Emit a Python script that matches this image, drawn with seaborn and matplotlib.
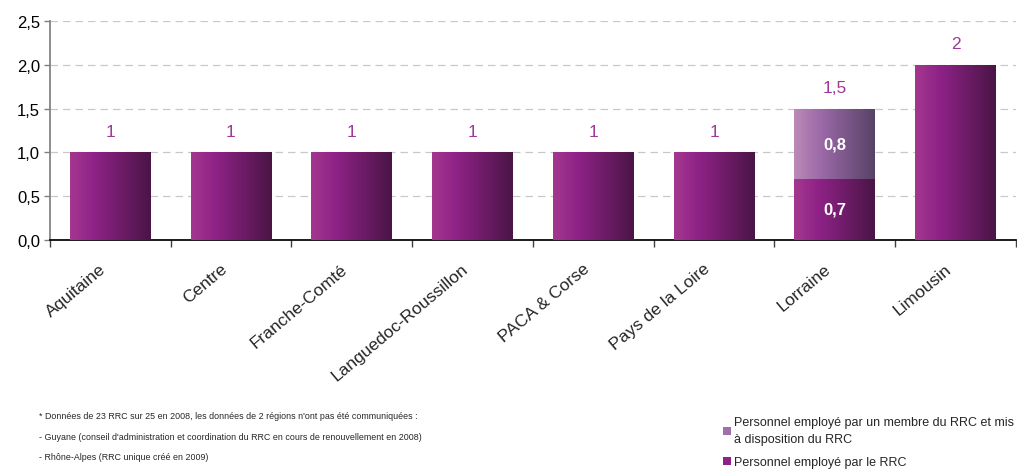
import numpy as np
import pandas as pd
import matplotlib
matplotlib.use("Agg")
import matplotlib.pyplot as plt
import matplotlib.transforms as mtransforms
import seaborn as sns
from matplotlib.colors import LinearSegmentedColormap
from matplotlib.patches import Patch
from matplotlib.ticker import FuncFormatter

regions = ['Aquitaine', 'Centre', 'Franche-Comté', 'Languedoc-Roussillon',
           'PACA & Corse', 'Pays de la Loire', 'Lorraine', 'Limousin']
employes_rrc = [1, 1, 1, 1, 1, 1, 0.7, 2]
mis_dispo = [0, 0, 0, 0, 0, 0, 0.8, 0]

df = pd.DataFrame({'Region': regions, 'RRC': employes_rrc, 'Dispo': mis_dispo})
df['Total'] = df['RRC'] + df['Dispo']

def fr(v):
    return ('%g' % v).replace('.', ',')

sns.set_theme(style="white")
plt.rcParams['font.family'] = ['Liberation Sans', 'DejaVu Sans']

fig = plt.figure(figsize=(10.17, 4.77), dpi=100)
ax = fig.add_axes([0.049, 0.495, 0.95, 0.459])

dark_cmap = LinearSegmentedColormap.from_list(
    'dark', [(0, '#a4388f'), (0.3, '#8f2287'), (1, '#4a1546')])
light_cmap = LinearSegmentedColormap.from_list(
    'light', [(0, '#bc8ab8'), (0.35, '#9a68a6'), (1, '#574366')])

# totals first (light), then RRC part on top (dark)
sns.barplot(data=df, x='Region', y='Total', color='#9a68a6', width=0.67,
            ax=ax, zorder=2, linewidth=0)
n_top = len(ax.patches)
sns.barplot(data=df, x='Region', y='RRC', color='#8f2287', width=0.67,
            ax=ax, zorder=3, linewidth=0)

grad = np.linspace(0, 1, 256).reshape(1, -1)
for i, p in enumerate(ax.patches):
    cmap = light_cmap if i < n_top else dark_cmap
    x0, y0 = p.get_x(), p.get_y()
    w, h = p.get_width(), p.get_height()
    if h <= 0:
        continue
    im = ax.imshow(grad, cmap=cmap, aspect='auto',
                   extent=[x0, x0 + w, y0, y0 + h],
                   zorder=p.get_zorder(), interpolation='bicubic')
    im.set_clip_path(p)

ax.set_xlim(-0.5, len(regions) - 0.5)
ax.set_ylim(0, 2.5)
ax.set_yticks(np.arange(0, 2.51, 0.5))
ax.yaxis.set_major_formatter(FuncFormatter(lambda v, pos: ('%.1f' % v).replace('.', ',')))
ax.grid(axis='y', color='#c8c8c8', linestyle=(0, (6, 4)), linewidth=0.9, zorder=0)
ax.set_axisbelow(True)

ax.set_xlabel('')
ax.set_ylabel('')
ax.tick_params(axis='y', labelsize=12, labelcolor='black', length=4, width=1,
               left=True, direction='out', pad=3, color='#808080')
ax.set_xticks(range(len(regions)))
ax.set_xticklabels(regions, rotation=40, ha='right', rotation_mode='anchor',
                   fontsize=12.5)
ax.tick_params(axis='x', which='major', length=0, pad=8)
ax.set_xticks(np.arange(-0.5, len(regions), 1), minor=True)
ax.tick_params(axis='x', which='minor', length=5, width=1, color='#404040',
               bottom=True, direction='out')

# nudge the rotated labels down-left like the original
shift = mtransforms.ScaledTranslation(-8 / 72, -7 / 72, fig.dpi_scale_trans)
for lbl in ax.get_xticklabels():
    lbl.set_transform(lbl.get_transform() + shift)

for s in ['top', 'right']:
    ax.spines[s].set_visible(False)
ax.spines['left'].set_color('#808080')
ax.spines['bottom'].set_color('black')

for i, row in df.iterrows():
    ax.annotate(fr(row['Total']), (i, row['Total']), xytext=(0, 15),
                textcoords='offset points', ha='center', va='center',
                color='#a0389a', fontsize=12.5)
    if row['Dispo'] > 0:
        ax.text(i, row['RRC'] / 2, fr(row['RRC']), ha='center', va='center',
                color='white', fontsize=12, fontweight='bold', zorder=5)
        ax.text(i, row['RRC'] + row['Dispo'] / 2, fr(row['Dispo']),
                ha='center', va='center', color='white', fontsize=12,
                fontweight='bold', zorder=5)

notes = ["* Données de 23 RRC sur 25 en 2008, les données de 2 régions n'ont pas été communiquées :",
         "- Guyane (conseil d'administration et coordination du RRC en cours de renouvellement en 2008)",
         "- Rhône-Alpes (RRC unique créé en 2009)"]
for k, t in enumerate(notes):
    fig.text(0.038, 1 - (417 + 20.5 * k) / 477, t, fontsize=6.4, va='center')

handles = [Patch(facecolor='#a070a8', edgecolor='none'),
           Patch(facecolor='#8e2288', edgecolor='none')]
labels = ["Personnel employé par un membre du RRC et mis\nà disposition du RRC",
          "Personnel employé par le RRC"]
leg = fig.legend(handles, labels, loc='upper left',
                 bbox_to_anchor=(0.711, 1 - 417 / 477),
                 frameon=False, fontsize=9.0, handlelength=0.6, handleheight=0.6,
                 handletextpad=0.3, labelspacing=0.85, borderaxespad=0,
                 borderpad=0)
for t in leg.get_texts():
    t.set_linespacing(1.6)

fig.savefig('out.png', dpi=100)
